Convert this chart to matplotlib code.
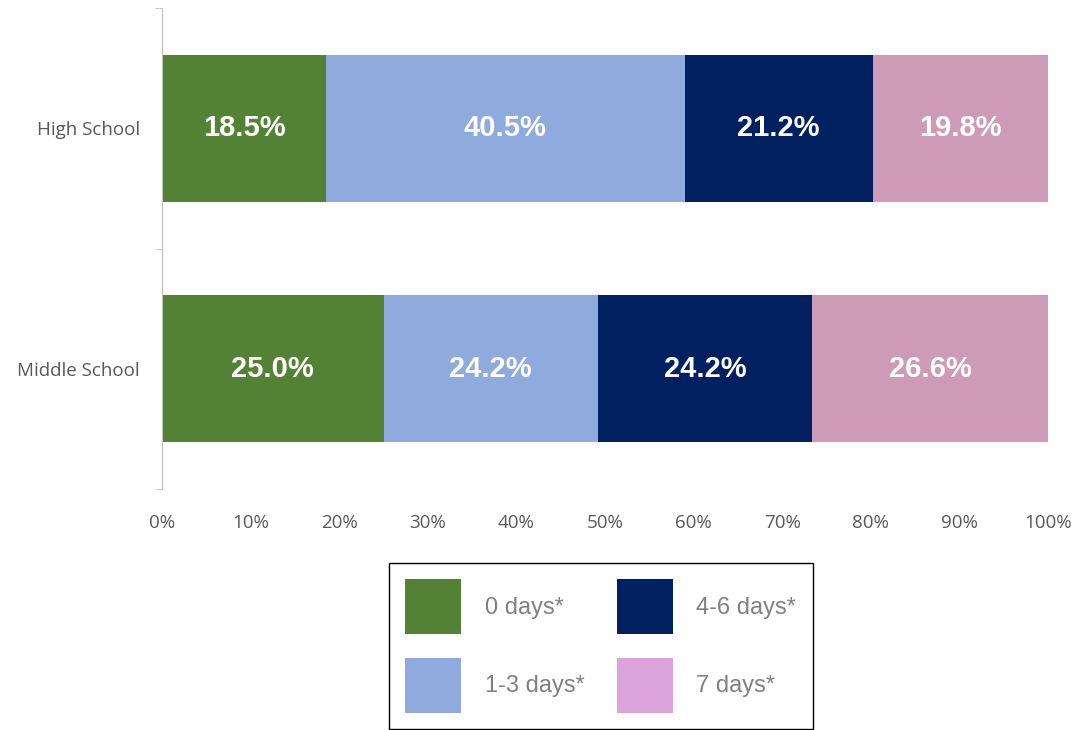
import numpy as np
import matplotlib.pyplot as plt
from matplotlib.patches import Patch

schools = ['Middle School', 'High School']
categories = ['0 days*', '1-3 days*', '4-6 days*', '7 days*']
values = {
    '0 days*': [25.0, 18.5],
    '1-3 days*': [24.2, 40.5],
    '4-6 days*': [24.2, 21.2],
    '7 days*': [26.6, 19.8],
}
bar_colors = ['#548235', '#8FAADC', '#002060', '#CE9BB6']
legend_colors = ['#548235', '#8FAADC', '#002060', '#DBA3DB']

fig = plt.figure(figsize=(10.75, 7.3), dpi=100)
ax = fig.add_axes([162 / 1075, 1 - 489 / 730, 886 / 1075, 481 / 730])

y = np.arange(len(schools))
left = np.zeros(len(schools))
for cat, col in zip(categories, bar_colors):
    vals = np.array(values[cat])
    bars = ax.barh(y, vals, left=left, height=0.61, color=col)
    for b, v in zip(bars, vals):
        ax.text(b.get_x() + b.get_width() / 2, b.get_y() + b.get_height() / 2,
                f'{v:.1f}%', ha='center', va='center', color='white',
                fontsize=21, fontweight='bold', family='Liberation Sans')
    left += vals

ax.set_xlim(0, 100)
ax.set_ylim(-0.5, 1.5)
ax.set_xticks(np.arange(0, 101, 10))
ax.set_xticklabels([f'{t}%' for t in range(0, 101, 10)])
ax.set_yticks(y)
ax.set_yticklabels(schools)
ax.set_yticks([-0.5, 0.5, 1.5], minor=True)
ax.tick_params(axis='y', which='major', length=0, pad=16)
ax.tick_params(axis='y', which='minor', length=5, color='#BFBFBF')
ax.tick_params(axis='x', length=0, pad=18)
for lab in ax.get_xticklabels() + ax.get_yticklabels():
    lab.set_fontsize(13.5)
    lab.set_color('#595959')
    lab.set_family('Open Sans')

for s in ['top', 'right', 'bottom']:
    ax.spines[s].set_visible(False)
ax.spines['left'].set_color('#BFBFBF')

handles = [Patch(facecolor=c, edgecolor='none') for c in legend_colors]
leg = fig.legend(handles, categories, loc='upper center', bbox_to_anchor=(0.559, 0.229),
                 ncol=2, handlelength=2.35, handleheight=3.2,
                 labelspacing=1.0, columnspacing=1.4, handletextpad=1.0,
                 borderpad=0.7, borderaxespad=0, fancybox=False, framealpha=1,
                 prop={'family': 'Liberation Sans', 'size': 17})
leg.get_frame().set_edgecolor('black')
leg.get_frame().set_linewidth(1)
for t in leg.get_texts():
    t.set_color('#808080')

fig.savefig('out.png', dpi=100)
